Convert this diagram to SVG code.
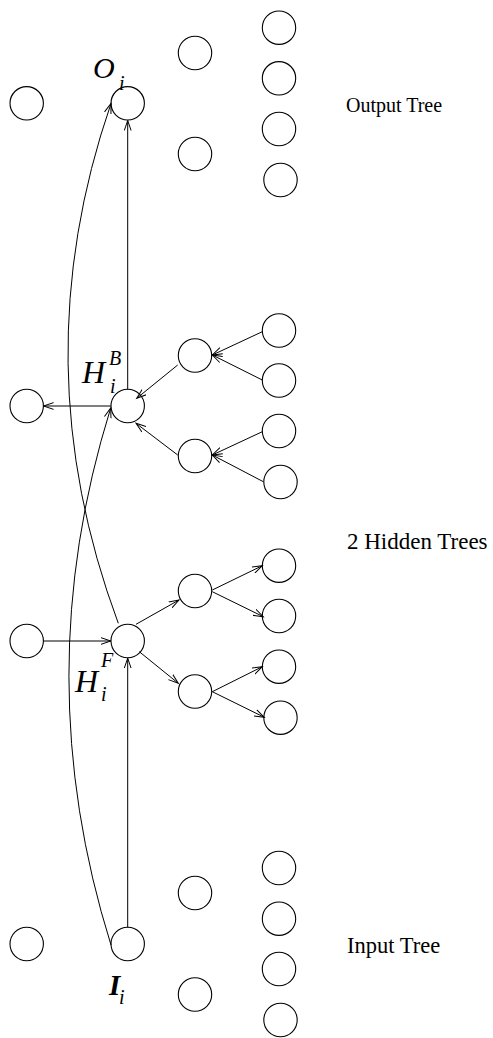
<svg xmlns="http://www.w3.org/2000/svg" width="493" height="1038" viewBox="0 0 493 1038">
<style>
.n{fill:none;stroke:#000;stroke-width:1.1}
.c line,.c path{fill:none;stroke:#000;stroke-width:1;marker-end:url(#ah)}
.m{font-family:"Liberation Serif","Times New Roman",serif;font-style:italic;fill:#000}
.t{font-family:"Liberation Serif","Times New Roman",serif;fill:#000}
</style>
<defs>
<marker id="ah" viewBox="0 0 12 8" markerWidth="12" markerHeight="8" refX="10" refY="4" orient="auto" markerUnits="userSpaceOnUse">
<path d="M0,0.6 L10,4 L0,7.4" fill="none" stroke="#000" stroke-width="1"/>
</marker>
</defs>
<rect width="493" height="1038" fill="#fff"/>

<!-- Output tree -->
<g id="out-left"><circle class="n" cx="26.7" cy="103.3" r="16.7"/></g>
<g id="out-O"><circle class="n" cx="127.7" cy="103.3" r="16.7"/></g>
<g id="out-c2a"><circle class="n" cx="195" cy="53" r="16.7"/></g>
<g id="out-c2b"><circle class="n" cx="195" cy="154" r="16.7"/></g>
<g id="out-c3a"><circle class="n" cx="279" cy="27.7" r="16.7"/></g>
<g id="out-c3b"><circle class="n" cx="279" cy="78.3" r="16.7"/></g>
<g id="out-c3c"><circle class="n" cx="279" cy="129" r="16.7"/></g>
<g id="out-c3d"><circle class="n" cx="280.5" cy="180" r="16.7"/></g>

<!-- Hidden backward -->
<g id="hb-left"><circle class="n" cx="26.7" cy="406" r="16.7"/></g>
<g id="hb-H"><circle class="n" cx="127.7" cy="406" r="16.7"/></g>
<g id="hb-c2a"><circle class="n" cx="195" cy="355.5" r="16.7"/></g>
<g id="hb-c2b"><circle class="n" cx="195" cy="456" r="16.7"/></g>
<g id="hb-c3a"><circle class="n" cx="279" cy="330.5" r="16.7"/></g>
<g id="hb-c3b"><circle class="n" cx="279" cy="380.5" r="16.7"/></g>
<g id="hb-c3c"><circle class="n" cx="279" cy="431" r="16.7"/></g>
<g id="hb-c3d"><circle class="n" cx="280.5" cy="482" r="16.7"/></g>

<!-- Hidden forward -->
<g id="hf-left"><circle class="n" cx="26.7" cy="641" r="16.7"/></g>
<g id="hf-H"><circle class="n" cx="127.7" cy="641" r="16.7"/></g>
<g id="hf-c2a"><circle class="n" cx="195" cy="591" r="16.7"/></g>
<g id="hf-c2b"><circle class="n" cx="195" cy="691.5" r="16.7"/></g>
<g id="hf-c3a"><circle class="n" cx="279" cy="565.7" r="16.7"/></g>
<g id="hf-c3b"><circle class="n" cx="279" cy="616" r="16.7"/></g>
<g id="hf-c3c"><circle class="n" cx="279" cy="666.7" r="16.7"/></g>
<g id="hf-c3d"><circle class="n" cx="280.5" cy="717.7" r="16.7"/></g>

<!-- Input tree -->
<g id="in-left"><circle class="n" cx="26.7" cy="944" r="16.7"/></g>
<g id="in-I"><circle class="n" cx="127.7" cy="944" r="16.7"/></g>
<g id="in-c2a"><circle class="n" cx="195" cy="893" r="16.7"/></g>
<g id="in-c2b"><circle class="n" cx="195" cy="994.5" r="16.7"/></g>
<g id="in-c3a"><circle class="n" cx="279" cy="868" r="16.7"/></g>
<g id="in-c3b"><circle class="n" cx="279" cy="918.7" r="16.7"/></g>
<g id="in-c3c"><circle class="n" cx="279" cy="969" r="16.7"/></g>
<g id="in-c3d"><circle class="n" cx="280.5" cy="1020" r="16.7"/></g>

<g id="connectors" class="c">
<line x1="127.7" y1="389.3" x2="127.7" y2="120.5"/>
<line x1="127.7" y1="927.3" x2="127.7" y2="658.2"/>
<line x1="110.9" y1="406" x2="43.6" y2="406"/>
<line x1="43.4" y1="641" x2="110.8" y2="641"/>
<line x1="136" y1="624.3" x2="179" y2="600"/>
<line x1="139.3" y1="651.7" x2="178.3" y2="683.3"/>
<line x1="212.3" y1="590" x2="262.3" y2="565.7"/>
<line x1="212.3" y1="591.7" x2="263.3" y2="616.7"/>
<line x1="212.3" y1="691.7" x2="262.3" y2="666.7"/>
<line x1="212.3" y1="691.7" x2="264.3" y2="717.3"/>
<line x1="262.3" y1="331.7" x2="212.3" y2="355"/>
<line x1="262.3" y1="380" x2="212.3" y2="355"/>
<line x1="177.7" y1="365" x2="136.7" y2="398.3"/>
<line x1="177.7" y1="455" x2="136" y2="423.3"/>
<line x1="262.3" y1="431.7" x2="212.3" y2="455"/>
<line x1="263.3" y1="481.7" x2="212.3" y2="455"/>
<path d="M111,945 Q27,676.5 110.7,408"/>
<path d="M118.3,623.3 Q21.5,363.3 111,103.5"/>
</g>

<g id="labels">
<text class="m" x="93" y="78" font-size="30">O</text>
<text class="m" x="119" y="90" font-size="20">i</text>
<text class="m" x="82" y="383" font-size="32">H</text>
<text class="m" x="109" y="365" font-size="20">B</text>
<text class="m" x="110" y="393" font-size="20">i</text>
<text class="m" x="75" y="692" font-size="32">H</text>
<text class="m" x="101" y="667" font-size="20">F</text>
<text class="m" x="101" y="701" font-size="20">i</text>
<text class="m" x="109" y="995" font-size="29" font-weight="bold">I</text>
<text class="m" x="119" y="1004" font-size="20">i</text>
<text class="t" x="346" y="112" font-size="20">Output Tree</text>
<text class="t" x="347" y="549" font-size="23">2 Hidden Trees</text>
<text class="t" x="347" y="953" font-size="22.5">Input Tree</text>
</g>
</svg>
